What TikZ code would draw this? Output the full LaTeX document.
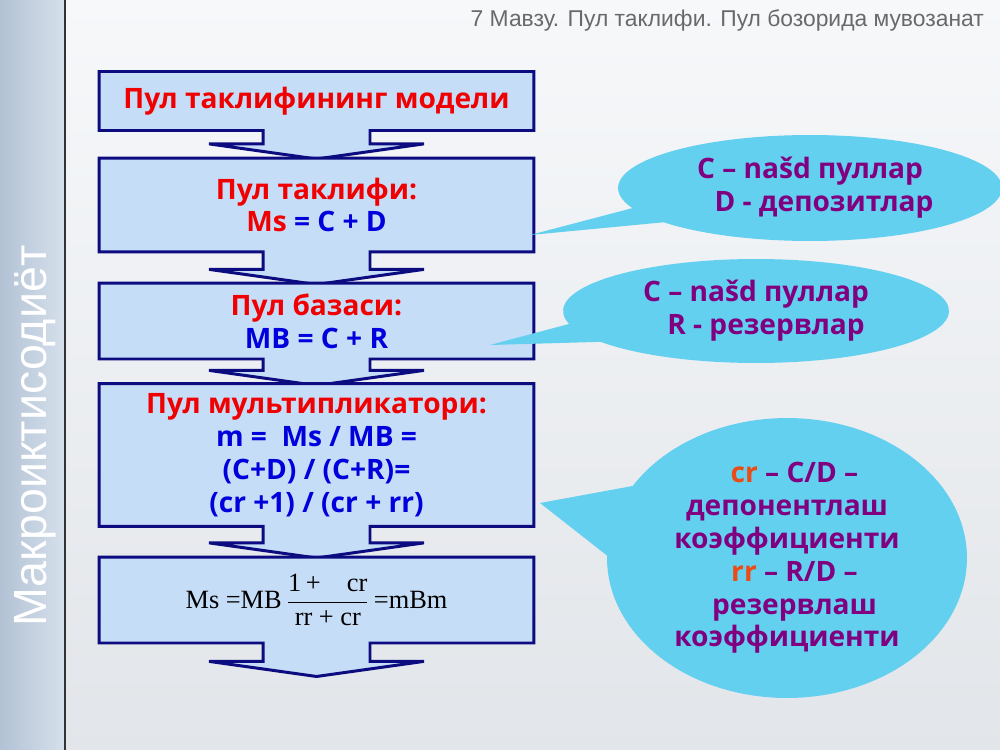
\documentclass[tikz,border=0pt]{standalone}
\usepackage{fontspec}
\setmainfont{Open Sans}
\newfontfamily\titlefont{Liberation Sans}
\newfontfamily\formfont{Liberation Serif}
\usetikzlibrary{shapes.arrows,shapes.callouts,shapes.geometric}

\definecolor{boxfill}{RGB}{198,221,248}
\definecolor{boxline}{RGB}{12,12,128}
\definecolor{txtred}{RGB}{240,0,0}
\definecolor{txtblue}{RGB}{0,0,220}
\definecolor{bubblefill}{RGB}{100,208,240}
\definecolor{bubbletext}{RGB}{128,0,128}
\definecolor{coefcol}{RGB}{235,75,20}
\definecolor{titlegray}{RGB}{105,105,105}
\definecolor{stripleft}{RGB}{178,194,212}
\definecolor{stripright}{RGB}{214,224,236}
\definecolor{pagetop}{RGB}{246,248,250}
\definecolor{pagebottom}{RGB}{226,229,233}

\newcommand{\boxfont}{\fontsize{16pt}{18.7pt}\selectfont\bfseries}

\begin{document}
\begin{tikzpicture}[x=0.02cm,y=-0.02cm,
  flowbox/.style={arrow box,draw=boxline,fill=boxfill,line width=1.7pt,minimum width=8.7cm,
    arrow box shaft width=2.14cm,arrow box head extend=1.08cm,arrow box head indent=0pt,
    arrow box tip angle=164,align=center,inner sep=0pt,font=\boxfont},
  bubble/.style={ellipse callout,fill=bubblefill,text=bubbletext,align=center,inner sep=0pt,font=\boxfont}]
  \useasboundingbox (0,0) rectangle (1000,750);
  % --- pozadi a levy pruh ---
  \shade[top color=pagetop,bottom color=pagebottom] (0,0) rectangle (1000,750);
  \shade[left color=stripleft,right color=stripright] (0,0) rectangle (65,750);
  \draw[black!80,line width=0.8pt] (65,0) -- (65,750);
  \node[rotate=90,font=\titlefont\fontsize{26.5pt}{30pt}\selectfont,text=white] (course) at (35,436) {Макроиктисодиёт};
  \node[anchor=east,font=\titlefont\fontsize{13pt}{15pt}\selectfont,text=titlegray] (title) at (990,20) {7 Мавзу. Пул таклифи. Пул бозорида мувозанат};
  % --- retez bloku ---
  \node[flowbox,minimum height=1.18cm,arrow box arrows={south:0.54cm},text=txtred] (model) at (316.5,101) {Пул таклифининг модели};
  \node[flowbox,minimum height=1.88cm,arrow box arrows={south:0.62cm}] (supply) at (316.5,205)
    {\textcolor{txtred}{Пул таклифи:}\\\textcolor{txtred}{Ms} \textcolor{txtblue}{= C + D}};
  \node[flowbox,minimum height=1.52cm,arrow box arrows={south:0.5cm}] (base) at (316.5,321)
    {\textcolor{txtred}{Пул базаси:}\\\textcolor{txtblue}{MB = C + R}};
  \node[flowbox,minimum height=2.86cm,arrow box arrows={south:0.6cm},text=txtblue] (mult) at (316.5,455)
    {\textcolor{txtred}{Пул мультипликатори:}\\m =\ \ Ms / MB =\\(C+D) / (C+R)=\\(cr +1) / (cr + rr)};
  \node[flowbox,minimum height=1.72cm,arrow box arrows={south:0.64cm},
    font=\formfont\fontsize{15pt}{18pt}\selectfont] (formula) at (316.5,600)
    {Ms =MB\,$\displaystyle\frac{\hbox{1\,+\quad cr}}{\hbox{rr + cr}}$\,=mBm};
  % --- bubliny s vysvetlivkami ---
  \coordinate (tip1) at (530,235);
  \coordinate (tip2) at (490,345);
  \coordinate (tip3) at (540,503);
  \node[bubble,minimum width=7.68cm,minimum height=2.12cm,callout absolute pointer=(tip1),callout pointer arc=18] (cashdep) at (810,188)
    {C – našd пуллар\\\hspace*{0.56cm}D - депозитлар};
  \node[bubble,minimum width=7.72cm,minimum height=2.08cm,callout absolute pointer=(tip2),callout pointer arc=22] (cashres) at (756,311)
    {C – našd пуллар\\\hspace*{0.4cm}R - резервлар};
  \node[bubble,minimum width=7.2cm,minimum height=5.6cm,callout absolute pointer=(tip3),callout pointer arc=30] (coef) at (787,558)
    {\hspace*{0.3cm}\textcolor{coefcol}{cr} – C/D –\\депонентлаш\\коэффициенти\\\hspace*{0.3cm}\textcolor{coefcol}{rr} – R/D –\\\hspace*{0.3cm}резервлаш\\коэффициенти};
\end{tikzpicture}
\end{document}
